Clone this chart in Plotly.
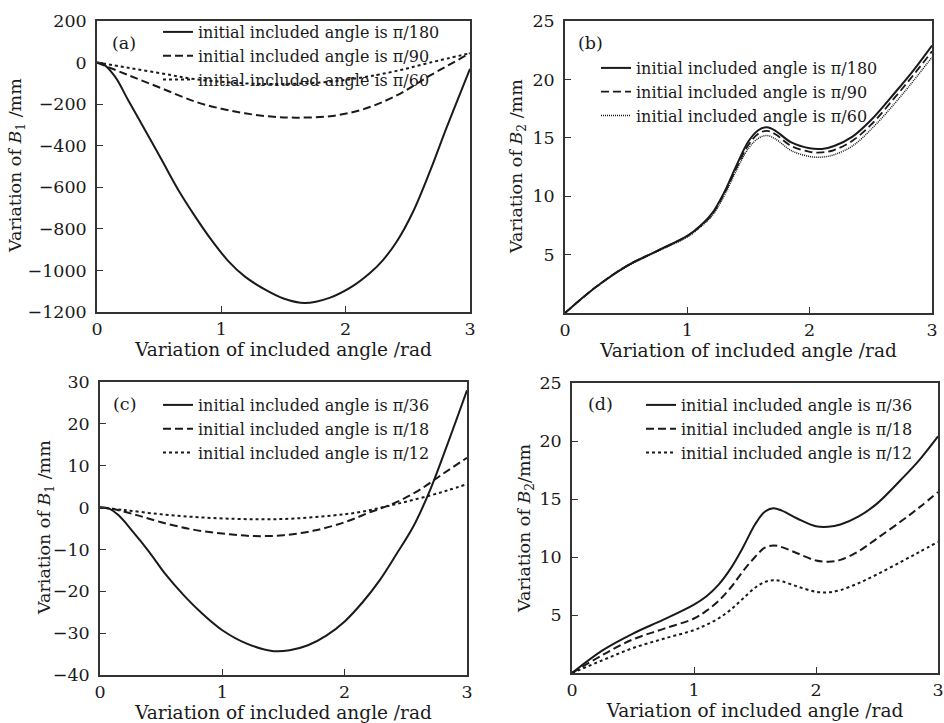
import plotly.graph_objects as go

# ---------------- data ----------------
# Panel (a): B1 variation, initial angles pi/180, pi/90, pi/60
xa_solid = [0, 0.05, 0.145, 0.25, 0.386, 0.52, 0.654, 0.79, 0.92, 1.056, 1.19, 1.36, 1.5, 1.67, 1.87, 2.05, 2.2, 2.3, 2.41, 2.54, 2.68, 2.81, 2.95, 3.0]
ya_solid = [0, -8, -68, -180, -324, -468, -613, -741, -853, -955, -1030, -1095, -1135, -1157, -1132, -1078, -1010, -950, -862, -720, -520, -315, -105, -30]
xa_dash = [0, 0.25, 0.52, 0.79, 1.0, 1.19, 1.4, 1.6, 1.874, 2.14, 2.41, 2.68, 3.0]
ya_dash = [0, -60, -124, -188, -222, -244, -260, -265, -258, -225, -158, -62, 45]
xa_dot = [0, 0.25, 0.52, 0.79, 1.19, 1.5, 1.874, 2.15, 2.41, 2.68, 3.0]
ya_dot = [0, -25, -52, -80, -100, -103, -92, -70, -40, 0, 45]

# Panels (b) and (d): common x
xbd = [0, 0.25, 0.5, 0.75, 1.0, 1.1, 1.2, 1.3, 1.4, 1.5, 1.58, 1.65, 1.72, 1.85, 2.0, 2.1, 2.2, 2.35, 2.5, 2.7, 2.85, 3.0]
yb_solid = [0, 2.2, 4.0, 5.3, 6.6, 7.4, 8.5, 10.3, 12.6, 14.7, 15.65, 15.9, 15.6, 14.6, 14.1, 14.05, 14.3, 15.1, 16.5, 18.9, 20.8, 22.9]
yb_dash = [0, 2.2, 4.0, 5.3, 6.6, 7.4, 8.4, 10.2, 12.4, 14.4, 15.35, 15.6, 15.3, 14.3, 13.8, 13.75, 13.95, 14.75, 16.1, 18.5, 20.4, 22.4]
yb_dot = [0, 2.2, 3.95, 5.25, 6.5, 7.3, 8.3, 10.0, 12.2, 14.1, 14.95, 15.2, 14.9, 13.9, 13.4, 13.35, 13.55, 14.3, 15.7, 18.0, 19.9, 21.9]

# Panel (c): B1 variation, initial angles pi/36, pi/18, pi/12
xc_solid = [0, 0.07, 0.15, 0.27, 0.4, 0.54, 0.68, 0.82, 1.0, 1.2, 1.42, 1.55, 1.7, 1.85, 2.0, 2.15, 2.29, 2.43, 2.56, 2.7, 2.83, 3.0]
yc_solid = [0, -0.2, -1.8, -5.8, -10.5, -16.1, -20.8, -24.9, -29.3, -32.5, -34.3, -34.1, -32.9, -30.6, -27.2, -22.5, -17.2, -10.8, -4.6, 4.3, 14.3, 28]
xc_dash = [0, 0.1, 0.3, 0.5, 0.75, 1.0, 1.25, 1.5, 1.75, 2.0, 2.2, 2.4, 2.6, 2.8, 3.0]
yc_dash = [0, -0.3, -1.8, -3.5, -5.2, -6.2, -6.8, -6.6, -5.5, -3.5, -1.2, 1.0, 4.0, 8.0, 11.9]
xc_dot = [0, 0.2, 0.5, 0.8, 1.1, 1.35, 1.6, 1.9, 2.1, 2.3, 2.5, 2.7, 2.85, 3.0]
yc_dot = [0, -0.6, -1.6, -2.3, -2.7, -2.8, -2.6, -1.9, -1.2, 0.0, 1.4, 2.9, 4.2, 5.6]

# Panel (d)
yd_solid = [0, 1.95, 3.4, 4.6, 5.9, 6.6, 7.6, 9.0, 10.8, 12.8, 13.9, 14.2, 14.0, 13.3, 12.65, 12.6, 12.8, 13.5, 14.6, 16.7, 18.4, 20.4]
yd_dash = [0, 1.55, 2.9, 3.8, 4.7, 5.35, 6.2, 7.35, 8.75, 10.0, 10.8, 11.0, 10.85, 10.3, 9.7, 9.6, 9.75, 10.5, 11.6, 13.1, 14.3, 15.6]
yd_dot = [0, 1.1, 2.15, 2.95, 3.7, 4.15, 4.7, 5.45, 6.4, 7.35, 7.85, 8.0, 7.9, 7.45, 7.0, 6.95, 7.15, 7.75, 8.5, 9.6, 10.45, 11.3]

names_ab = ["initial included angle is π/180", "initial included angle is π/90", "initial included angle is π/60"]
names_cd = ["initial included angle is π/36", "initial included angle is π/18", "initial included angle is π/12"]
panel_labels = ["(a)", "(b)", "(c)", "(d)"]
x_title = "Variation of included angle /rad"
y_titles = ["Variation of <i>B</i><sub>1</sub> /mm", "Variation of <i>B</i><sub>2</sub> /mm",
            "Variation of <i>B</i><sub>1</sub> /mm", "Variation of <i>B</i><sub>2</sub>/mm"]

x_ticks = [0, 1, 2, 3]
ya_ticks = [200, 0, -200, -400, -600, -800, -1000, -1200]
yb_ticks = [5, 10, 15, 20, 25]
yc_ticks = [30, 20, 10, 0, -10, -20, -30, -40]

# ---------------- figure ----------------
W, H = 944, 723
FONT = "DejaVu Serif"
INK = "#1a1a1a"

def px_x(p):
    return p / W

def px_y(p):
    return 1 - p / H

# plot areas in pixels: (left, right, top, bottom)
areas = [(97, 470, 21, 312), (565, 932, 21, 313), (100, 467, 382, 675), (572, 938, 383, 673)]

fig = go.Figure()

styles = [dict(dash="solid", width=2.0), dict(dash="8px,4px", width=2.0), dict(dash="dot", width=2.0)]

def add_set(xs, ys, names, axis_idx, legend_name, styles_used):
    xa = "x" if axis_idx == 1 else f"x{axis_idx}"
    ya = "y" if axis_idx == 1 else f"y{axis_idx}"
    for x, y, n, st in zip(xs, ys, names, styles_used):
        fig.add_trace(go.Scatter(
            x=x, y=y, name=n, mode="lines",
            line=dict(color=INK, width=st["width"], dash=st["dash"], shape="spline", smoothing=1.0),
            xaxis=xa, yaxis=ya, legend=legend_name,
        ))

add_set([xa_solid, xa_dash, xa_dot], [ya_solid, ya_dash, ya_dot], names_ab, 1, "legend", styles)
b_styles = [dict(dash="solid", width=2.0), dict(dash="8px,4px", width=1.8), dict(dash="1px,1px", width=1.5)]
add_set([xbd, xbd, xbd], [yb_solid, yb_dash, yb_dot], names_ab, 2, "legend2", b_styles)
add_set([xc_solid, xc_dash, xc_dot], [yc_solid, yc_dash, yc_dot], names_cd, 3, "legend3", styles)
add_set([xbd, xbd, xbd], [yd_solid, yd_dash, yd_dot], names_cd, 4, "legend4", styles)

layout = dict(
    width=W, height=H,
    margin=dict(l=0, r=0, t=0, b=0, pad=0, autoexpand=False),
    paper_bgcolor="white", plot_bgcolor="white",
    font=dict(family=FONT, color=INK, size=16),
    showlegend=True,
)

yticks_list = [ya_ticks, yb_ticks, yc_ticks, yb_ticks]
yranges = [[-1200, 200], [0, 25], [-40, 30], [0, 25]]

for i, (l, r, t, b) in enumerate(areas):
    k = "" if i == 0 else str(i + 1)
    axis_common = dict(
        showline=True, linecolor="#333", linewidth=1.5, mirror=True,
        ticks="inside", ticklen=6, tickwidth=1.3, tickcolor="#333",
        showgrid=False, zeroline=False, automargin=False,
        tickfont=dict(family=FONT, size=17.5, color=INK),
    )
    layout["xaxis" + k] = dict(
        axis_common, domain=[px_x(l), px_x(r)], range=[0, 3],
        tickvals=x_ticks, anchor="y" + k,
        title=dict(text=x_title, font=dict(family=FONT, size=18.5, color=INK), standoff=0),
    )
    layout["yaxis" + k] = dict(
        axis_common, domain=[px_y(b), px_y(t)], range=yranges[i],
        tickvals=yticks_list[i], anchor="x" + k, ticklabelstandoff=5,
    )

leg_common = dict(
    bgcolor="rgba(0,0,0,0)", borderwidth=0,
    font=dict(family=FONT, size=16, color=INK),
    xanchor="left", yanchor="top", tracegroupgap=0,
)
layout["legend"] = dict(leg_common, x=px_x(158), y=px_y(15))
layout["legend2"] = dict(leg_common, x=px_x(596), y=px_y(51))
layout["legend3"] = dict(leg_common, x=px_x(158), y=px_y(388))
layout["legend4"] = dict(leg_common, x=px_x(641), y=px_y(388))

fig.update_layout(**layout)

label_pos = [(124, 43), (590, 43), (124, 404), (600, 404)]
for lab, (lx, ly) in zip(panel_labels, label_pos):
    fig.add_annotation(text=lab, x=px_x(lx), y=px_y(ly), xref="paper", yref="paper",
                       xanchor="center", yanchor="middle",
                       showarrow=False, font=dict(family=FONT, size=17.5, color=INK))

ytitle_pos = [(17, 166), (517, 167), (45, 528), (525, 528)]
for txt, (tx, ty) in zip(y_titles, ytitle_pos):
    fig.add_annotation(text=txt, x=px_x(tx), y=px_y(ty), xref="paper", yref="paper",
                       xanchor="center", yanchor="middle", textangle=-90,
                       showarrow=False, font=dict(family=FONT, size=17.5, color=INK))

fig.write_html("out.html")
